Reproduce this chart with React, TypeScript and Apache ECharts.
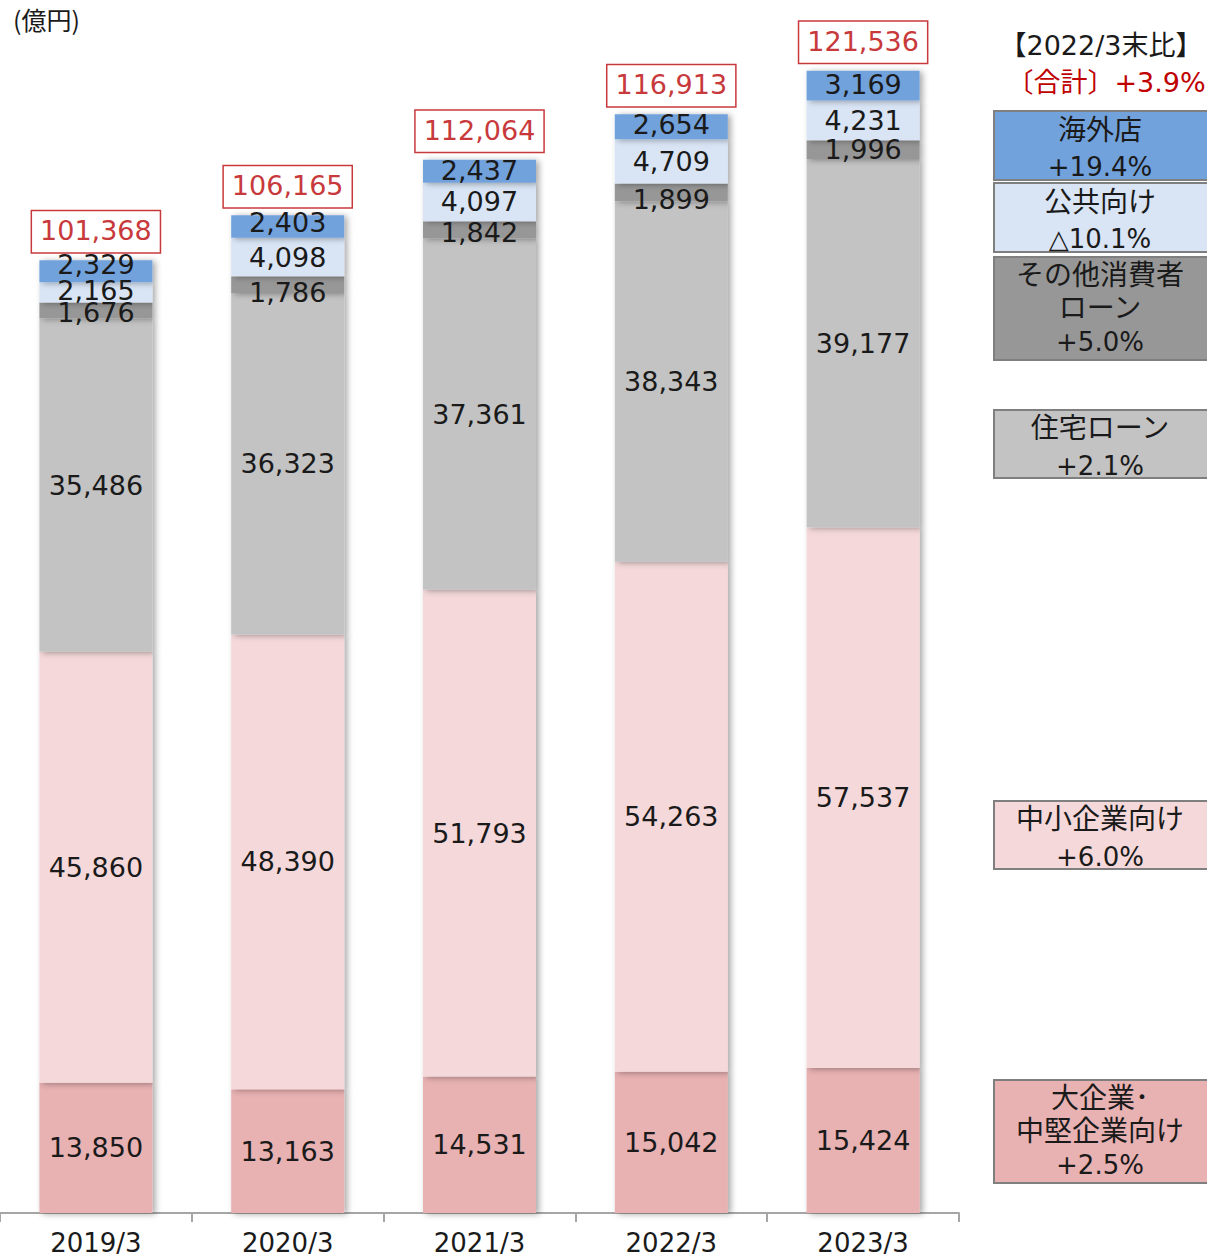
import React, { useEffect, useRef } from "react";
import * as echarts from "echarts";

const categories = ["2019/3", "2020/3", "2021/3", "2022/3", "2023/3"];
const largeCorp = [13850, 13163, 14531, 15042, 15424];
const smeLoans = [45860, 48390, 51793, 54263, 57537];
const housingLoans = [35486, 36323, 37361, 38343, 39177];
const otherConsumer = [1676, 1786, 1842, 1899, 1996];
const publicLoans = [2165, 4098, 4097, 4709, 4231];
const overseas = [2329, 2403, 2437, 2654, 3169];
const totals = [101368, 106165, 112064, 116913, 121536];

const seriesNames = ["大企業・中堅企業向け", "中小企業向け", "住宅ローン", "その他消費者ローン", "公共向け", "海外店"];
const seriesColors = ["#e8b1b2", "#f5d9da", "#c3c3c3", "#979797", "#d9e5f5", "#72a2dc"];

// vertical nudges (px) for the value labels of the thin top segments, per series index → per category
const labelNudge: Record<number, number[]> = {
  3: [2, 8, 3, 7, 0],
  4: [-2, 0, 0, 0, 0],
  5: [-7, -4, -1, -2, -1],
};

const legendBoxes = [
  { lines: ["海外店", "+19.4%"], color: "#72a2dc", y: 111, h: 69 },
  { lines: ["公共向け", "△10.1%"], color: "#d9e5f5", y: 183, h: 69 },
  { lines: ["その他消費者", "ローン", "+5.0%"], color: "#979797", y: 257, h: 103 },
  { lines: ["住宅ローン", "+2.1%"], color: "#c3c3c3", y: 410, h: 68 },
  { lines: ["中小企業向け", "+6.0%"], color: "#f5d9da", y: 801, h: 68 },
  { lines: ["大企業･", "中堅企業向け", "+2.5%"], color: "#e8b1b2", y: 1080, h: 103 },
];

const FONT = "'DejaVu Sans', 'Noto Sans CJK JP', sans-serif";

export default function App() {
  const ref = useRef<HTMLDivElement>(null);
  useEffect(() => {
    document.body.style.margin = "0";
    const chart = echarts.init(ref.current!, undefined, { renderer: "svg" });
    const dataSets = [largeCorp, smeLoans, housingLoans, otherConsumer, publicLoans, overseas];
    const fmt = (v: number) => v.toLocaleString("en-US");
    const series: any[] = dataSets.map((d, i) => ({
      name: seriesNames[i],
      type: "bar",
      stack: "total",
      barWidth: 113,
      data: d.map((v, k) => {
        const n = labelNudge[i] ? labelNudge[i][k] : 0;
        return n ? { value: v, label: { offset: [0, n] } } : v;
      }),
      z: 3,
      itemStyle: {
        color: seriesColors[i],
        shadowColor: "rgba(0,0,0,0.35)",
        shadowBlur: 6,
        shadowOffsetX: 3,
        shadowOffsetY: 1,
      },
      label: {
        show: true,
        position: "inside",
        formatter: (p: any) => fmt(p.value),
        color: "#1a1a1a",
        fontSize: 27,
        fontFamily: FONT,
      },
    }));
    series.push({
      name: "合計",
      type: "bar",
      barWidth: 113,
      barGap: "-100%",
      data: totals,
      z: 1,
      silent: true,
      itemStyle: { color: "rgba(0,0,0,0)" },
      label: {
        show: true,
        position: "top",
        distance: 8,
        formatter: (p: any) => fmt(p.value),
        color: "#c8393c",
        fontSize: 27,
        fontFamily: FONT,
        borderColor: "#c8393c",
        borderWidth: 1.5,
        padding: [6, 8, 8, 8],
        backgroundColor: "#fff",
      },
    });

    const graphics: any[] = [
      {
        type: "text",
        left: 13,
        top: 6,
        style: { text: "(億円)", fontSize: 25, fontFamily: "'Noto Sans CJK JP', sans-serif", fill: "#1a1a1a" },
      },
      {
        type: "text",
        x: 1101,
        y: 45,
        style: {
          text: "【2022/3末比】",
          fontSize: 27,
          fontFamily: FONT,
          fill: "#1a1a1a",
          align: "center",
          verticalAlign: "middle",
        },
      },
      {
        type: "text",
        x: 1106,
        y: 82,
        style: {
          text: "〔合計〕+3.9%",
          fontSize: 27,
          fontFamily: FONT,
          fill: "#c00000",
          align: "center",
          verticalAlign: "middle",
        },
      },
    ];
    legendBoxes.forEach((b) => {
      graphics.push({
        type: "rect",
        shape: { x: 994, y: b.y, width: 220, height: b.h },
        style: { fill: b.color, stroke: "#7f7f7f", lineWidth: 2 },
      });
      const n = b.lines.length;
      const step = n === 3 ? 33.5 : 37;
      b.lines.forEach((t, j) => {
        const isNum = /^[+△]/.test(t);
        graphics.push({
          type: "text",
          x: 1100,
          y: b.y + b.h / 2 + (j - (n - 1) / 2) * step + (n === 3 ? 0 : 3),
          style: {
            text: t,
            fontSize: isNum ? 26 : 28,
            fontFamily: FONT,
            fill: "#1a1a1a",
            align: "center",
            verticalAlign: "middle",
          },
        });
      });
    });

    chart.setOption({
      animation: false,
      grid: { left: -3, top: 10, width: 962, height: 1203, containLabel: false },
      xAxis: {
        type: "category",
        data: categories,
        axisLine: { show: true, lineStyle: { color: "#a6a6a6", width: 2 } },
        axisTick: { show: true, length: 9, lineStyle: { color: "#a6a6a6", width: 2 } },
        axisLabel: { color: "#1a1a1a", fontSize: 26, fontFamily: FONT, margin: 17 },
      },
      yAxis: { type: "value", min: 0, max: 128000, show: false, splitLine: { show: false } },
      series,
      graphic: graphics,
    });
    return () => chart.dispose();
  }, []);
  return <div ref={ref} style={{ width: 1207, height: 1258 }} />;
}
